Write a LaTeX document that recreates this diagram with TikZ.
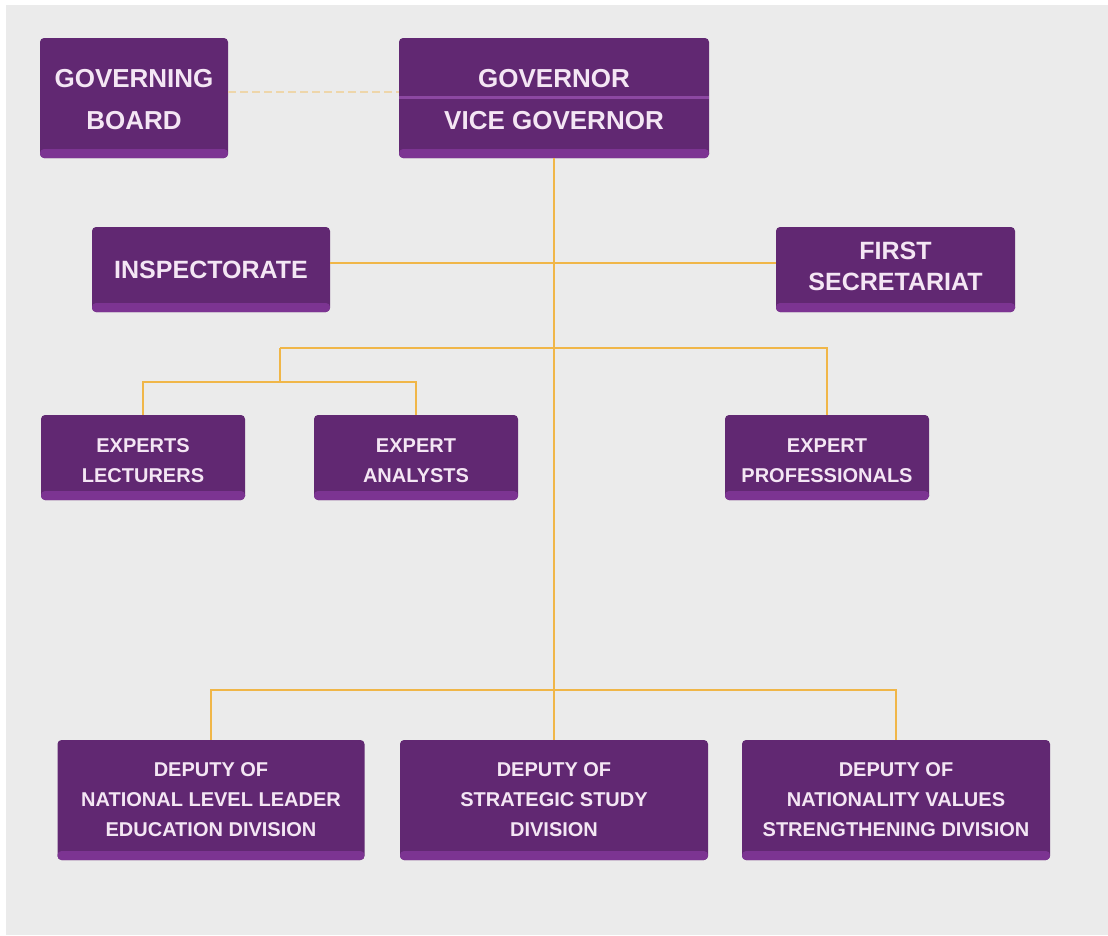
\documentclass[tikz,border=0pt]{standalone}
\usepackage{fontspec}
\setmainfont{Liberation Sans}
\definecolor{bg}{RGB}{235,235,235}
\definecolor{boxpurple}{RGB}{97,40,114}
\definecolor{stripcol}{RGB}{124,52,146}
\definecolor{divcol}{RGB}{140,72,162}
\definecolor{boxtext}{RGB}{244,230,244}
\definecolor{linecol}{RGB}{240,182,72}
\definecolor{dashcol}{RGB}{238,214,170}
\begin{document}
\begin{tikzpicture}[x=1pt,y=-1pt,
  orgbox/.style={rectangle, rounded corners=4pt, fill=boxpurple, text=boxtext,
    inner sep=0pt, align=center,
    path picture={\fill[stripcol] ([yshift=9pt]path picture bounding box.south west) rectangle (path picture bounding box.south east);}},
  smallbox/.style={orgbox, font=\fontsize{20}{30}\selectfont\bfseries},
  boxlabel/.style={text=boxtext, inner sep=0pt, align=center, font=\fontsize{26}{42}\selectfont\bfseries},
  midlabel/.style={text=boxtext, inner sep=0pt, align=center, font=\fontsize{25}{31}\selectfont\bfseries},
  smalllabel/.style={text=boxtext, inner sep=0pt, align=center, font=\fontsize{20}{30}\selectfont\bfseries},
  conn/.style={draw=linecol, line width=1.5pt},
  dashconn/.style={draw=dashcol, line width=1.5pt, dash pattern=on 8pt off 4pt}]
\useasboundingbox (0,0) rectangle (1108,935);
\fill[white] (0,0) rectangle (1108,935);
\fill[bg] (6,5) rectangle (1108,935);

% top row
\node[orgbox, minimum width=188pt, minimum height=120pt] (gb) at (134,98) {};
\node[boxlabel] (gbt) at (134,100) {GOVERNING\\BOARD};
\node[orgbox, minimum width=310pt, minimum height=120pt] (gov) at (554,98) {};
\draw[divcol, line width=3pt] ([yshift=1pt]gov.west) -- ([yshift=1pt]gov.east);
\node[boxlabel] (govt) at (554,79) {GOVERNOR};
\node[boxlabel] (vgovt) at (554,121) {VICE GOVERNOR};

% second row
\node[orgbox, minimum width=238pt, minimum height=85pt] (insp) at (211,269.5) {};
\node[midlabel] (inspt) at (211,269.5) {INSPECTORATE};
\node[orgbox, minimum width=239pt, minimum height=85pt] (fs) at (895.5,269.5) {};
\node[midlabel] (fst) at (895.5,266.5) {FIRST\\SECRETARIAT};

% experts row
\node[orgbox, minimum width=204pt, minimum height=85pt] (el) at (143,457.5) {};
\node[orgbox, minimum width=204pt, minimum height=85pt] (ea) at (416,457.5) {};
\node[orgbox, minimum width=204pt, minimum height=85pt] (ep) at (827,457.5) {};
\node[smalllabel] (elt) at (143,460.5) {EXPERTS\\LECTURERS};
\node[smalllabel] (eat) at (416,460.5) {EXPERT\\ANALYSTS};
\node[smalllabel] (ept) at (827,460.5) {EXPERT\\PROFESSIONALS};

% deputies row
\node[smallbox, minimum width=307pt, minimum height=120pt] (d1) at (211,800) {DEPUTY OF\\NATIONAL LEVEL LEADER\\EDUCATION DIVISION};
\node[smallbox, minimum width=308pt, minimum height=120pt] (d2) at (554,800) {DEPUTY OF\\STRATEGIC STUDY\\DIVISION};
\node[smallbox, minimum width=308pt, minimum height=120pt] (d3) at (896,800) {DEPUTY OF\\NATIONALITY VALUES\\STRENGTHENING DIVISION};

% junction coordinates
\coordinate (jl) at (280,348);
\coordinate (jr) at (827,348);
\coordinate (jla) at (280,382);
\coordinate (jd) at (211,690);
\coordinate (je) at (896,690);
\coordinate (jh) at (554,263);
\coordinate (jg) at (300,92);

% connectors
\draw[dashconn] (gb.east |- jg) -- (gov.west |- jg);
\draw[conn] (gov.south) -- (d2.north);
\draw[conn] (insp.east |- jh) -- (fs.west |- jh);
\draw[conn] (jl) -- (jr) -- (ep.north);
\draw[conn] (jl) -- (jla);
\draw[conn] (el.north) |- (jla) -| (ea.north);
\draw[conn] (d1.north) |- (jd) -- (je) -- (d3.north);
\end{tikzpicture}
\end{document}
